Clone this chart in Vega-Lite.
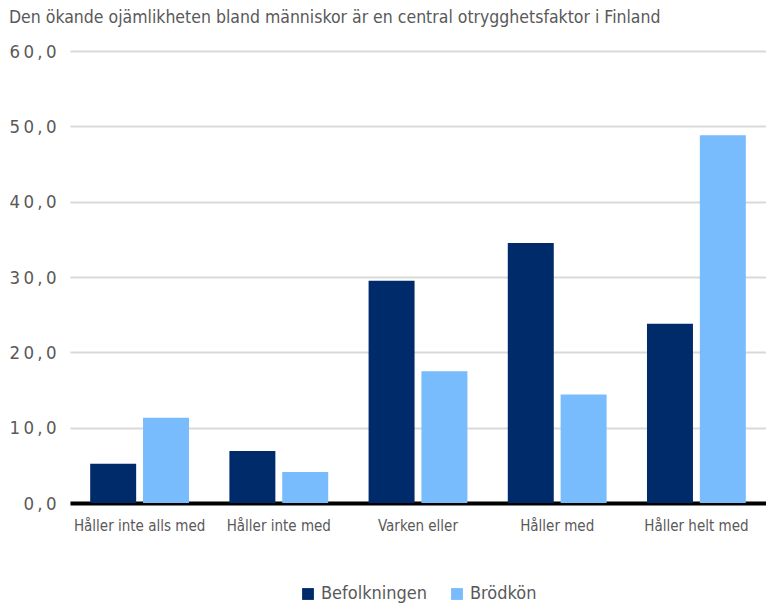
{
  "$schema": "https://vega.github.io/schema/vega-lite/v6.json",
  "autosize": {"type": "fit", "contains": "padding"},
  "width": 766,
  "height": 607,
  "padding": {"left": 8, "top": 8, "right": 0, "bottom": 4},
  "background": "white",
  "title": {
    "text": "Den ökande ojämlikheten bland människor är en central otrygghetsfaktor i Finland",
    "anchor": "start",
    "frame": "bounds",
    "offset": 16,
    "font": "DejaVu Sans Condensed, DejaVu Sans, sans-serif",
    "fontSize": 17.5,
    "fontWeight": "normal",
    "color": "#595959"
  },
  "data": {
    "values": [
      {"kat": "Håller inte alls med", "grupp": "Befolkningen", "v": 5.2},
      {"kat": "Håller inte alls med", "grupp": "Brödkön", "v": 11.3},
      {"kat": "Håller inte med", "grupp": "Befolkningen", "v": 6.9},
      {"kat": "Håller inte med", "grupp": "Brödkön", "v": 4.1},
      {"kat": "Varken eller", "grupp": "Befolkningen", "v": 29.5},
      {"kat": "Varken eller", "grupp": "Brödkön", "v": 17.5},
      {"kat": "Håller med", "grupp": "Befolkningen", "v": 34.5},
      {"kat": "Håller med", "grupp": "Brödkön", "v": 14.4},
      {"kat": "Håller helt med", "grupp": "Befolkningen", "v": 23.8},
      {"kat": "Håller helt med", "grupp": "Brödkön", "v": 48.8}
    ]
  },
  "mark": {"type": "bar"},
  "encoding": {
    "x": {
      "field": "kat",
      "type": "nominal",
      "sort": null,
      "title": null,
      "scale": {"paddingInner": 0.29, "paddingOuter": 0.145},
      "axis": {
        "labelAngle": 0,
        "labelFont": "DejaVu Sans Condensed, DejaVu Sans, sans-serif",
        "labelFontSize": 15,
        "labelColor": "#595959",
        "labelPadding": 15,
        "ticks": false,
        "domainColor": "#000000",
        "domainWidth": 4
      }
    },
    "xOffset": {
      "field": "grupp",
      "type": "nominal",
      "scale": {"paddingInner": 0.13, "paddingOuter": 0}
    },
    "y": {
      "field": "v",
      "type": "quantitative",
      "title": null,
      "scale": {"domain": [0, 60]},
      "axis": {
        "values": [0, 10, 20, 30, 40, 50, 60],
        "labelExpr": "join(split(replace(format(datum.value, '.1f'), '.', ','), ''), '\u2009')",
        "labelFont": "DejaVu Sans Condensed, DejaVu Sans, sans-serif",
        "labelFontSize": 18.5,
        "labelColor": "#595959",
        "labelPadding": 14,
        "ticks": false,
        "domain": false,
        "gridColor": "#d9d9d9",
        "gridWidth": 2
      }
    },
    "color": {
      "field": "grupp",
      "type": "nominal",
      "title": null,
      "scale": {"domain": ["Befolkningen", "Brödkön"], "range": ["#002B6B", "#78BCFD"]},
      "legend": {
        "orient": "bottom",
        "direction": "horizontal",
        "symbolType": "square",
        "symbolSize": 140,
        "symbolStrokeWidth": 0,
        "labelFont": "DejaVu Sans Condensed, DejaVu Sans, sans-serif",
        "labelFontSize": 18,
        "labelColor": "#595959",
        "columnPadding": 20,
        "offset": 52
      }
    }
  },
  "config": {
    "view": {"stroke": null},
    "legend": {"layout": {"bottom": {"anchor": "middle"}}}
  }
}
